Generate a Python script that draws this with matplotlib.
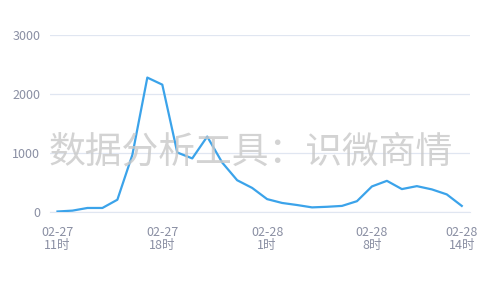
import matplotlib
matplotlib.use('Agg')
import matplotlib.pyplot as plt

plt.rcParams['font.family'] = ['Noto Sans CJK SC', 'DejaVu Sans']

# hourly counts, 02-27 11时 .. 02-28 14时
hours = ['02-27\n11时', '02-27\n12时', '02-27\n13时', '02-27\n14时', '02-27\n15时',
         '02-27\n16时', '02-27\n17时', '02-27\n18时', '02-27\n19时', '02-27\n20时',
         '02-27\n21时', '02-27\n22时', '02-27\n23时', '02-28\n0时', '02-28\n1时',
         '02-28\n2时', '02-28\n3时', '02-28\n4时', '02-28\n5时', '02-28\n6时',
         '02-28\n7时', '02-28\n8时', '02-28\n9时', '02-28\n10时', '02-28\n11时',
         '02-28\n12时', '02-28\n13时', '02-28\n14时']
values = [10, 25, 70, 70, 210, 970, 2280, 2160, 1010, 910,
          1280, 840, 540, 410, 220, 155, 120, 80, 90, 105,
          185, 435, 530, 390, 440, 385, 300, 105]
shown_ticks = [0, 7, 14, 21, 27]
y_ticks = [0, 1000, 2000, 3000]

label_color = '#8a8fa3'
line_color = '#3ba3ea'
grid_color = '#e0e6f1'

fig = plt.figure(figsize=(5, 3), dpi=100)
ax = fig.add_axes([0.1, 0.293, 0.84, 0.59])

x = list(range(len(values)))
ax.plot(x, values, color=line_color, linewidth=1.6, zorder=3)

ax.set_xlim(-0.5, len(values) - 0.45)
ax.set_ylim(0, 3000)
ax.set_yticks(y_ticks)
ax.set_yticklabels([str(v) for v in y_ticks])
ax.set_xticks(shown_ticks)
ax.set_xticklabels([hours[i] for i in shown_ticks], linespacing=1.05)

ax.tick_params(axis='both', length=0, labelsize=9, colors=label_color)
ax.tick_params(axis='y', pad=7)
ax.tick_params(axis='x', pad=10)
ax.grid(axis='y', color=grid_color, linewidth=0.9)
ax.set_axisbelow(True)
for s in ['top', 'right', 'left']:
    ax.spines[s].set_visible(False)
ax.spines['bottom'].set_color(grid_color)

fig.text(0.502, 0.493, '数据分析工具：识微商情', fontsize=26.5, color='#c8c8c8',
         alpha=0.8, ha='center', va='center', zorder=0)

fig.savefig('out.png', dpi=100, facecolor='white')
